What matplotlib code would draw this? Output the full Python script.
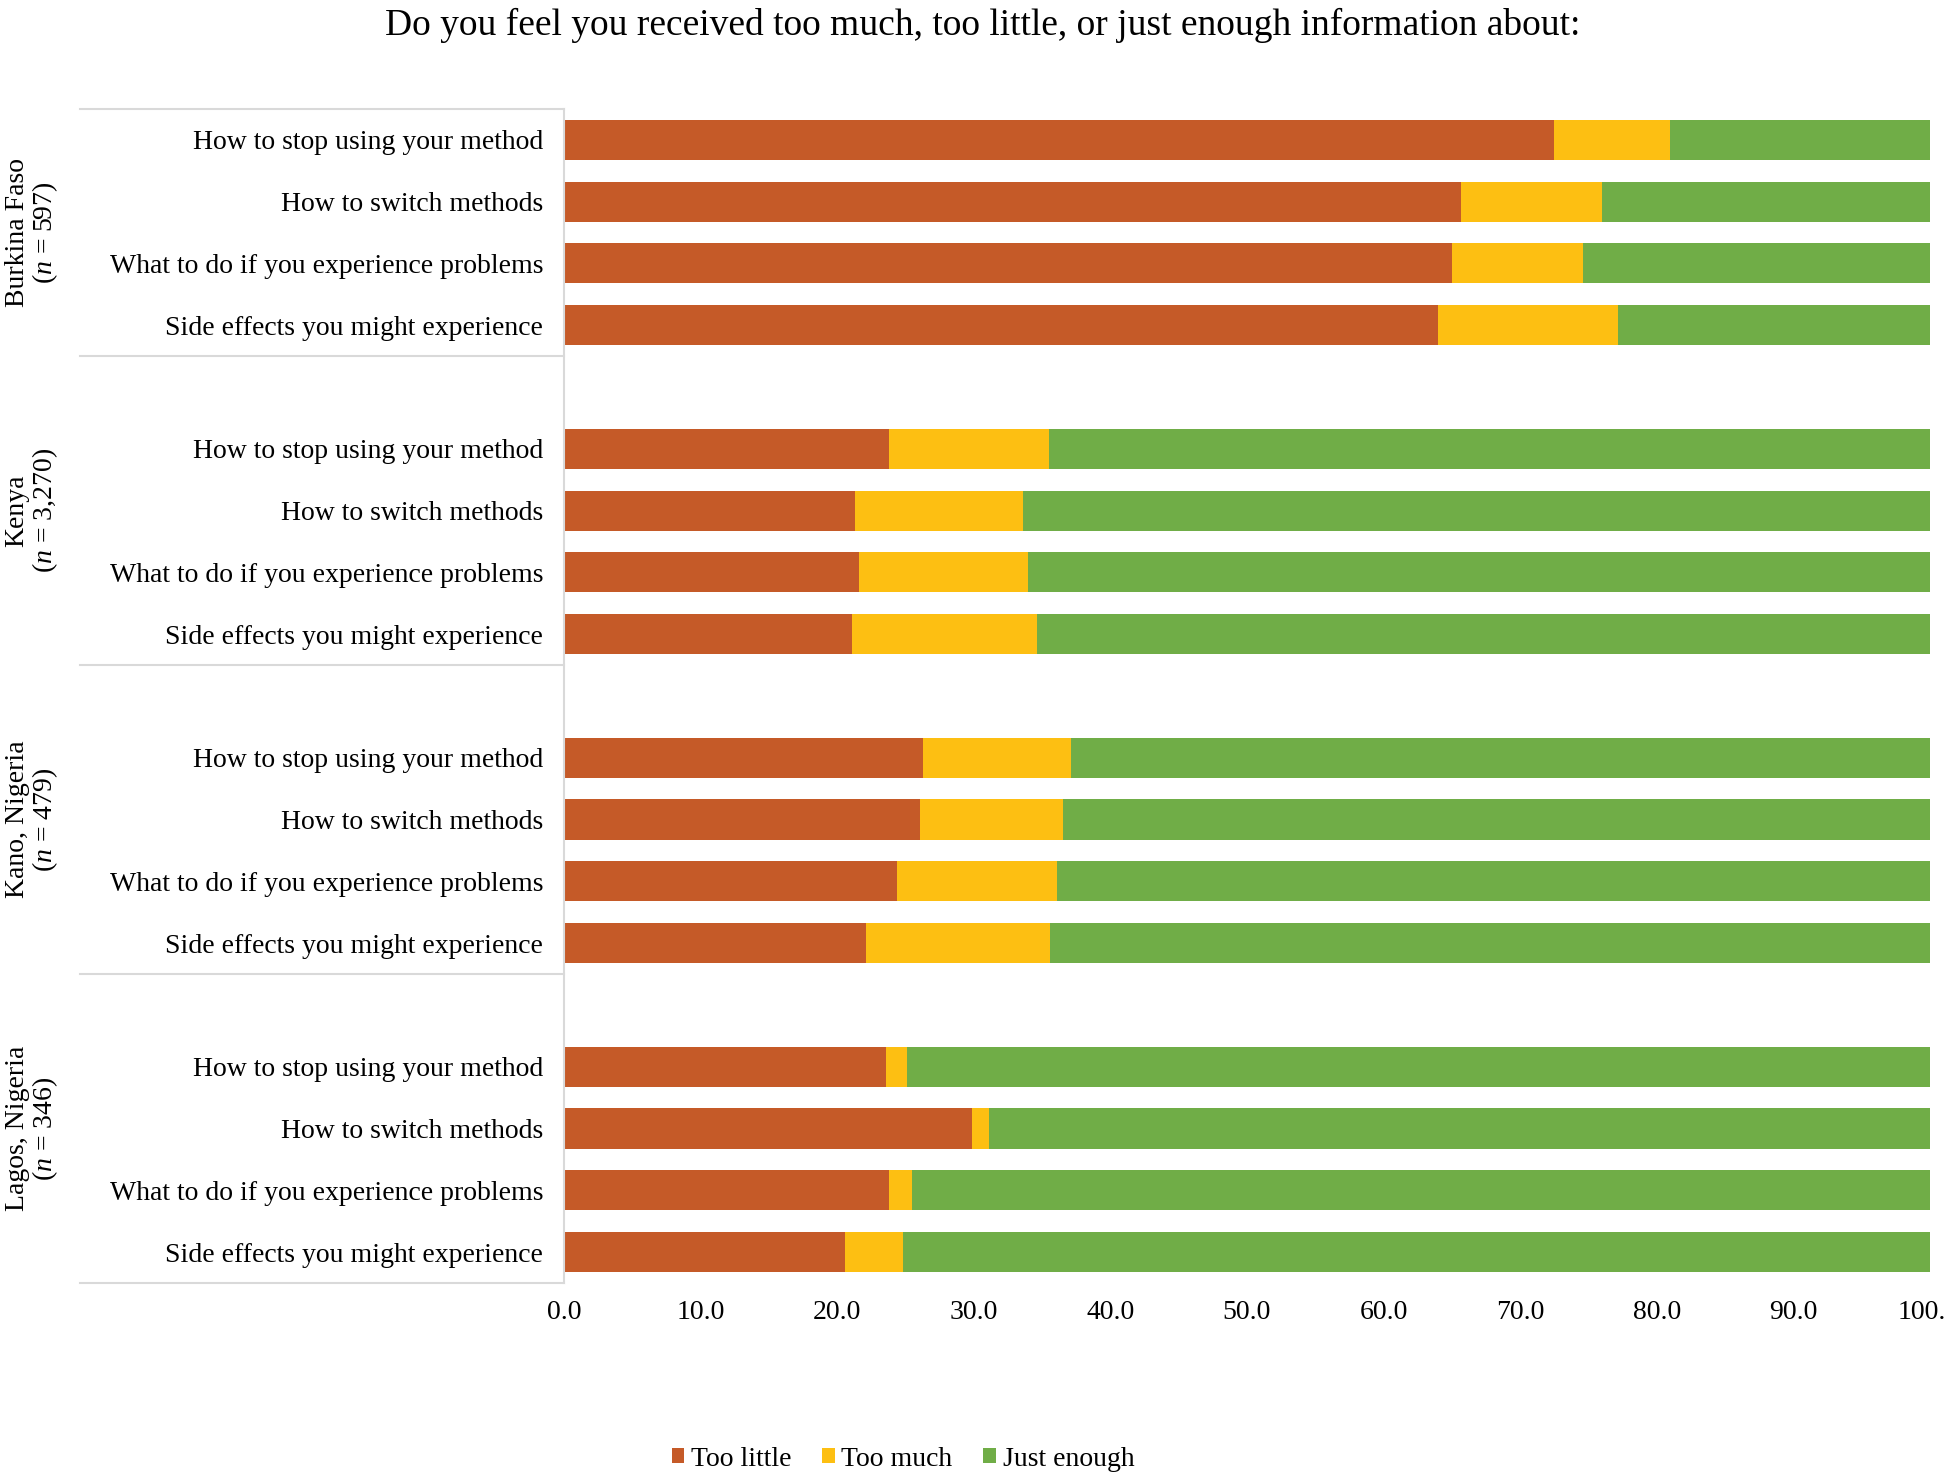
#!/usr/bin/env python3
"""
Stacked horizontal bars: information received about the contraceptive method
"""

import matplotlib

matplotlib.use("Agg")
import matplotlib.pyplot as plt
import matplotlib.transforms as mtransforms

title = "Do you feel you received too much, too little, or just enough information about:"

groups = ["Burkina Faso", "Kenya", "Kano, Nigeria", "Lagos, Nigeria"]
group_n = ["597", "3,270", "479", "346"]

items = [
    "How to stop using your method",
    "How to switch methods",
    "What to do if you experience problems",
    "Side effects you might experience",
]

# one row per group, one value per item (percent)
too_little = [
    [72.5, 65.7, 65.0, 64.0],
    [23.8, 21.3, 21.6, 21.1],
    [26.3, 26.1, 24.4, 22.1],
    [23.6, 29.9, 23.8, 20.6],
]
too_much = [
    [8.5, 10.3, 9.6, 13.2],
    [11.7, 12.3, 12.4, 13.5],
    [10.8, 10.4, 11.7, 13.5],
    [1.5, 1.2, 1.7, 4.2],
]
just_enough = [
    [19.0, 24.0, 25.4, 22.8],
    [64.5, 66.4, 66.0, 65.4],
    [62.9, 63.5, 63.9, 64.4],
    [74.9, 68.9, 74.5, 75.2],
]

series_names = ["Too little", "Too much", "Just enough"]
series_colors = ["#C55A28", "#FDBF12", "#70AD47"]

xticks = [0, 10, 20, 30, 40, 50, 60, 70, 80, 90, 100]
xtick_labels = ["0.0", "10.0", "20.0", "30.0", "40.0", "50.0",
                "60.0", "70.0", "80.0", "90.0", "100."]

plt.rcParams["font.family"] = ["Liberation Serif", "DejaVu Serif"]
plt.rcParams["mathtext.fontset"] = "custom"
plt.rcParams["mathtext.rm"] = "Liberation Serif"
plt.rcParams["mathtext.it"] = "Liberation Serif:italic"

FS = 20
GRID = "#D9D9D9"


def main():
    fig = plt.figure(figsize=(19.5, 14.8), dpi=100)
    ax = fig.add_axes([0.2892, 0.1331, 0.7005, 0.7933])

    # positions: 4 bars per group, blank slot between groups
    positions, labels = [], []
    for g in range(len(groups)):
        for i, item in enumerate(items):
            positions.append(g * 5 + i)
            labels.append(item)

    flat = [
        [v for row in too_little for v in row],
        [v for row in too_much for v in row],
        [v for row in just_enough for v in row],
    ]
    left = [0.0] * len(positions)
    for name, color, vals in zip(series_names, series_colors, flat):
        ax.barh(positions, vals, left=left, height=0.65, color=color,
                label=name, linewidth=0)
        left = [a + b for a, b in zip(left, vals)]

    ax.set_ylim(18.5, -0.5)
    ax.set_xlim(0, 100)
    ax.set_yticks(positions)
    ax.set_yticklabels(labels, fontsize=FS)
    ax.set_xticks(xticks)
    ax.set_xticklabels(xtick_labels, fontsize=FS)
    ax.tick_params(axis="y", length=0, pad=15)
    ax.tick_params(axis="x", length=0, pad=12)

    # keep the last tick label inside the figure
    last = ax.get_xticklabels()[-1]
    last.set_transform(last.get_transform()
                       + mtransforms.ScaledTranslation(-6 / 72, 0, fig.dpi_scale_trans))

    for side in ["top", "right", "bottom"]:
        ax.spines[side].set_visible(False)
    ax.spines["left"].set_color(GRID)
    ax.spines["left"].set_linewidth(1.5)

    # group separators and group labels on the left
    trans = mtransforms.blended_transform_factory(ax.transAxes, ax.transData)
    bounds = [-0.5, 3.5, 8.5, 13.5, 18.5]
    for y in bounds:
        ax.plot([-0.354, 0], [y, y], transform=trans, color=GRID, lw=1.5,
                clip_on=False)
    for g, (name, n) in enumerate(zip(groups, group_n)):
        yc = (bounds[g] + bounds[g + 1]) / 2
        ax.text(-0.389, yc, f"{name}\n($n$ = {n})", transform=trans,
                rotation=90, ha="center", va="center", fontsize=FS,
                multialignment="center", linespacing=1.05)

    fig.text(0.504, 0.983, title, ha="center", va="center", fontsize=27)

    fig.legend(loc="center", bbox_to_anchor=(0.463, 0.014), ncol=3,
               frameon=False, fontsize=FS, handlelength=0.45,
               handleheight=0.45, handletextpad=0.25, columnspacing=1.1)

    fig.savefig("out.png", dpi=100)


if __name__ == "__main__":
    main()
